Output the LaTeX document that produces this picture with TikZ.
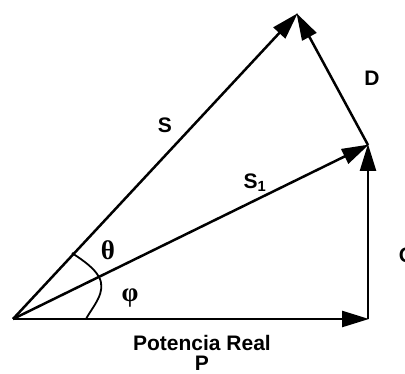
\documentclass[tikz,border=0pt]{standalone}
\usepackage{fontspec}
\setmainfont{Liberation Sans}
\newfontfamily\grk{Liberation Serif}
\usetikzlibrary{arrows.meta}
\begin{document}
\begin{tikzpicture}[x=1pt,y=-1pt,
  vec/.style={line width=2.5pt,-{Triangle[length=27pt,width=16pt]},shorten >=-1pt},
  lbl/.style={font=\bfseries\fontsize{21}{23}\selectfont,inner sep=0pt},
  grlbl/.style={font=\grk\bfseries\fontsize{27}{29}\selectfont,inner sep=0pt},
  angarc/.style={line width=1.8pt}]
\useasboundingbox (0,0) rectangle (405,374);
\coordinate (O) at (13,319);
\coordinate (P) at (368,319);
\coordinate (Q) at (368,145);
\coordinate (A) at (297,14);
\draw[vec] (O) -- (P);
\draw[vec] (P) -- (Q);
\draw[vec] (O) -- (Q);
\draw[vec] (O) -- (A);
\draw[vec] (Q) -- (A);
% angle arcs
\coordinate (t1) at (72,253);
\coordinate (t2) at (99,277);
\coordinate (p2) at (86,319);
\draw[angarc] (t1) .. controls (84,261) and (94,268) .. (t2);
\draw[angarc] (t2) .. controls (107,292) and (93,306) .. (p2);
% labels
\node[lbl] (lS) at (165,125) {S};
\node[lbl] (lS1) at (255,183) {S\textsubscript{1}};
\node[lbl] (lD) at (372,78) {D};
\node[lbl] (lQ) at (407,257) {Q};
\node[grlbl] (lth) at (108,250) {θ};
\node[grlbl] (lph) at (130,298) {φ};
\node[lbl] (lPR) at (202,343) {Potencia Real};
\node[lbl] (lP) at (202,363) {P};
\end{tikzpicture}
\end{document}
